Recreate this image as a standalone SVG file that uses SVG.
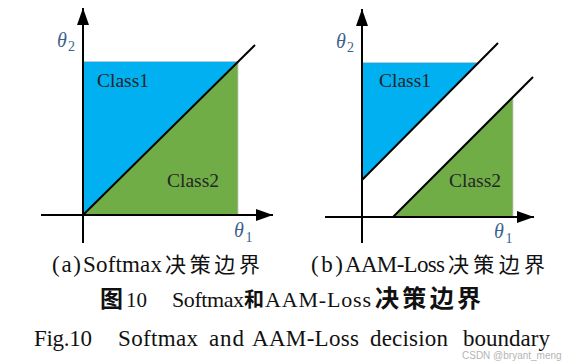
<svg xmlns="http://www.w3.org/2000/svg" width="565" height="364" viewBox="0 0 565 364">
<style>
.ax{stroke:#000;stroke-width:2;fill:none}
.bd{stroke:#000;stroke-width:2;fill:none}
.blue{fill:#00b0f0;stroke:#c8c8c8;stroke-width:0.8}
.green{fill:#70ad47;stroke:#c8c8c8;stroke-width:0.8}
.cls{font-family:"Liberation Serif",serif;font-size:19.5px;fill:#262626}
.th{font-family:"Liberation Serif",serif;font-style:italic;font-size:20px;fill:#3d5f8f}
.sub{font-family:"Liberation Serif",serif;font-size:14px;fill:#3d5f8f}
.cap{font-family:"Liberation Serif","Noto Sans CJK SC",serif;font-size:23px;fill:#111}
.cjk{font-family:"Noto Sans CJK SC",sans-serif;font-size:21px;fill:#111}
.cjkb{font-family:"Noto Sans CJK SC",sans-serif;font-size:24px;font-weight:bold;fill:#111}
.wm{font-family:"Liberation Sans",sans-serif;font-size:10px;fill:#b4b4b4}
</style>
<defs>
<marker id="arr" markerUnits="userSpaceOnUse" markerWidth="18" markerHeight="12" refX="17" refY="6" orient="auto">
<path d="M0,0 L17,6 L0,12 z" fill="#000"/>
</marker>
</defs>

<g id="panel-a">
<polygon class="blue" points="83,61.5 238,61.5 83,215"/>
<polygon class="green" points="83,215 238,61.5 238,215"/>
<text class="cls" x="97" y="87">Class1</text>
<text class="cls" x="167" y="187">Class2</text>
<text class="th" x="57" y="47">θ</text><text class="sub" x="68" y="51">2</text>
<text class="th" x="234" y="237">θ</text><text class="sub" x="245.5" y="242">1</text>
</g>
<g id="panel-b">
<polygon class="blue" points="362,62.5 478,62.5 362,180"/>
<polygon class="green" points="393,217 513,97 513,217"/>
<text class="cls" x="379" y="87">Class1</text>
<text class="cls" x="449" y="187">Class2</text>
<text class="th" x="336" y="48">θ</text><text class="sub" x="347" y="52">2</text>
<text class="th" x="494" y="238">θ</text><text class="sub" x="505.5" y="243">1</text>
</g>

<g id="connectors">
<line class="ax" x1="83" y1="243" x2="83" y2="8" marker-end="url(#arr)"/>
<line class="ax" x1="41" y1="215" x2="273" y2="215" marker-end="url(#arr)"/>
<line class="bd" x1="83" y1="215" x2="255" y2="45"/>
<line class="ax" x1="362" y1="243" x2="362" y2="9" marker-end="url(#arr)"/>
<line class="ax" x1="325" y1="217" x2="534" y2="217" marker-end="url(#arr)"/>
<line class="bd" x1="362" y1="180" x2="498" y2="43"/>
<line class="bd" x1="393" y1="217" x2="533" y2="77"/>
</g>

<g id="captions">
<text class="cap" x="52" y="272" textLength="29" lengthAdjust="spacing">(a)</text>
<text class="cap" x="83" y="272" textLength="79" lengthAdjust="spacing">Softmax</text>
<text class="cjk" x="165" y="272" textLength="95" lengthAdjust="spacing">决策边界</text>
<text class="cap" x="311" y="272" textLength="32" lengthAdjust="spacing">(b)</text>
<text class="cap" x="345" y="272" textLength="100" lengthAdjust="spacing">AAM-Loss</text>
<text class="cjk" x="448" y="272" textLength="97" lengthAdjust="spacing">决策边界</text>

<text class="cjkb" x="100" y="307" style="font-size:23px">图</text>
<text class="cap" x="126" y="307" textLength="21" lengthAdjust="spacing" style="font-size:21px">10</text>
<text class="cap" x="172" y="307" textLength="72" lengthAdjust="spacing" style="font-size:22px">Softmax</text>
<text class="cjkb" x="244" y="307" style="font-size:20px">和</text>
<text class="cap" x="265" y="307" textLength="106" lengthAdjust="spacing" style="font-size:22px">AAM-Loss</text>
<text class="cjkb" x="375" y="307" textLength="106" lengthAdjust="spacing">决策边界</text>

<text class="cap" x="34" y="346" textLength="58" lengthAdjust="spacing">Fig.10</text>
<text class="cap" x="118" y="346" textLength="80" lengthAdjust="spacing">Softmax</text>
<text class="cap" x="209" y="346" textLength="35" lengthAdjust="spacing">and</text>
<text class="cap" x="252" y="346" textLength="107" lengthAdjust="spacing">AAM-Loss</text>
<text class="cap" x="370" y="346" textLength="78" lengthAdjust="spacing">decision</text>
<text class="cap" x="463" y="346" textLength="87" lengthAdjust="spacing">boundary</text>

<text class="wm" x="462" y="359">CSDN @bryant_meng</text>
</g>
</svg>
